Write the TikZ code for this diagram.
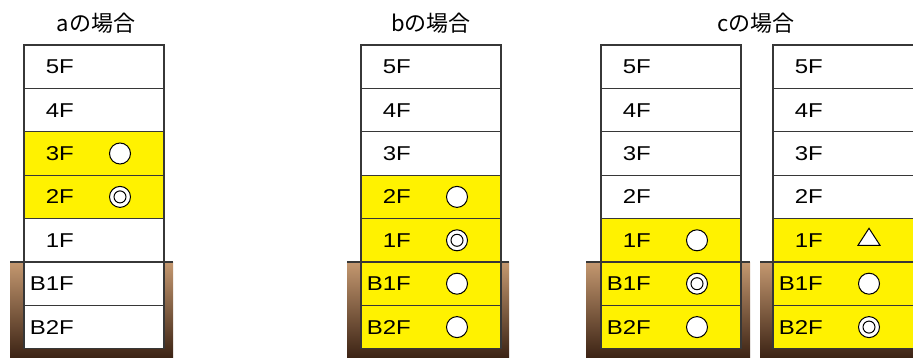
\documentclass[tikz,border=0pt]{standalone}
\usepackage{fontspec}
\setmainfont{Liberation Sans}
\newfontfamily\labfont[FakeStretch=1.2]{Liberation Sans}
\newfontfamily\jpfont{Noto Sans CJK JP}
\usetikzlibrary{shapes.geometric}
\definecolor{fyellow}{RGB}{255,242,0}
\definecolor{edgecol}{RGB}{55,55,55}
\definecolor{soiltop}{RGB}{196,152,112}
\definecolor{soilbot}{RGB}{56,32,18}
\newcommand\flr[5]{%
  \node[floorbox,fill=#4] (#1) at (#2,{45+#3*43.4}) {};
  \node[lab] (#1l) at ([xshift=50pt,yshift=-7pt]#1.west) {#5};}
\newcommand\soil[3]{%
  \fill[top color=soiltop,bottom color=soilbot] (#2,262) rectangle (#3,360);
  \draw[edgecol,line width=1.3pt] (#2,262) -- (#3,262);}
\begin{document}
\begin{tikzpicture}[x=1pt,y=-1pt,
  floorbox/.style={draw=edgecol,line width=1.3pt,minimum width=140pt,minimum height=43.4pt,inner sep=0pt,outer sep=0pt,anchor=north west},
  lab/.style={anchor=base east,inner sep=0pt,font=\labfont\fontsize{20}{20}\selectfont,text=black},
  ttl/.style={inner sep=0pt,font=\jpfont\fontsize{22}{22}\selectfont},
  ocirc/.style={circle,draw=black,fill=white,line width=1pt,minimum size=21pt,inner sep=0pt},
  dcirc/.style={ocirc,path picture={\draw[line width=1pt] (path picture bounding box.center) circle (6pt);}},
  otri/.style={isosceles triangle,isosceles triangle stretches,shape border rotate=90,draw=black,fill=white,line width=1pt,minimum height=17pt,minimum width=22pt,inner sep=0pt}]
\useasboundingbox (0,0) rectangle (913,358);
\fill[white] (0,0) rectangle (913,358);
% ground
\soil{ga}{10}{173}
\soil{gb}{347}{509}
\soil{gc}{586}{750}
\soil{gd}{760}{930}
% titles
\node[ttl] (ta) at (96,23.5) {aの場合};
\node[ttl] (tb) at (431,23.5) {bの場合};
\node[ttl] (tc) at (756,23.5) {cの場合};
% building a
\flr{a0}{24}{0}{white}{5F}
\flr{a1}{24}{1}{white}{4F}
\flr{a2}{24}{2}{fyellow}{3F}
\flr{a3}{24}{3}{fyellow}{2F}
\flr{a4}{24}{4}{white}{1F}
\flr{a5}{24}{5}{white}{B1F}
\flr{a6}{24}{6}{white}{B2F}
\node[ocirc] (a2s) at ([xshift=96pt]a2.west) {};
\node[dcirc] (a3s) at ([xshift=96pt]a3.west) {};
% building b
\flr{b0}{361}{0}{white}{5F}
\flr{b1}{361}{1}{white}{4F}
\flr{b2}{361}{2}{white}{3F}
\flr{b3}{361}{3}{fyellow}{2F}
\flr{b4}{361}{4}{fyellow}{1F}
\flr{b5}{361}{5}{fyellow}{B1F}
\flr{b6}{361}{6}{fyellow}{B2F}
\node[ocirc] (b3s) at ([xshift=96pt]b3.west) {};
\node[dcirc] (b4s) at ([xshift=96pt]b4.west) {};
\node[ocirc] (b5s) at ([xshift=96pt]b5.west) {};
\node[ocirc] (b6s) at ([xshift=96pt]b6.west) {};
% building c1
\flr{c0}{601}{0}{white}{5F}
\flr{c1}{601}{1}{white}{4F}
\flr{c2}{601}{2}{white}{3F}
\flr{c3}{601}{3}{white}{2F}
\flr{c4}{601}{4}{fyellow}{1F}
\flr{c5}{601}{5}{fyellow}{B1F}
\flr{c6}{601}{6}{fyellow}{B2F}
\node[ocirc] (c4s) at ([xshift=96pt]c4.west) {};
\node[dcirc] (c5s) at ([xshift=96pt]c5.west) {};
\node[ocirc] (c6s) at ([xshift=96pt]c6.west) {};
% building c2
\tikzset{floorbox/.append style={minimum width=150pt}}
\flr{d0}{773}{0}{white}{5F}
\flr{d1}{773}{1}{white}{4F}
\flr{d2}{773}{2}{white}{3F}
\flr{d3}{773}{3}{white}{2F}
\flr{d4}{773}{4}{fyellow}{1F}
\flr{d5}{773}{5}{fyellow}{B1F}
\flr{d6}{773}{6}{fyellow}{B2F}
\node[otri] (d4s) at ([xshift=96pt,yshift=1pt]d4.west) {};
\node[ocirc] (d5s) at ([xshift=96pt]d5.west) {};
\node[dcirc] (d6s) at ([xshift=96pt]d6.west) {};
\end{tikzpicture}
\end{document}
